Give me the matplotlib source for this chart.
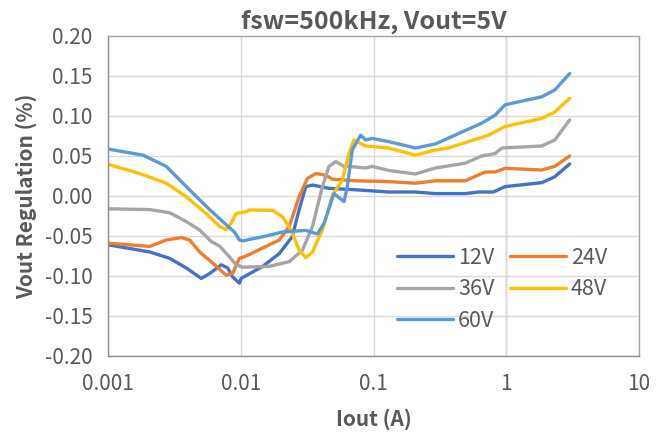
import matplotlib
matplotlib.use('Agg')
import matplotlib.pyplot as plt
from matplotlib.ticker import FixedLocator, FuncFormatter, NullLocator

plt.rcParams['font.family'] = ['Noto Sans CJK SC', 'DejaVu Sans']
plt.rcParams['axes.unicode_minus'] = False

# values (Iout in A, regulation in %)
iout_12v = [0.001, 0.00207, 0.00292, 0.00389, 0.00504, 0.00582, 0.00713, 0.00798, 0.00867,
            0.00977, 0.01007, 0.01462, 0.0195, 0.0244, 0.0275, 0.0309, 0.0347, 0.0462,
            0.0777, 0.13, 0.207, 0.292, 0.491, 0.618, 0.80, 0.98, 1.85, 2.32, 3.0]
reg_12v = [-0.061, -0.070, -0.078, -0.090, -0.103, -0.097, -0.086, -0.090, -0.101,
           -0.109, -0.103, -0.088, -0.072, -0.051, -0.0175, 0.0117, 0.0137, 0.0096,
           0.0075, 0.005, 0.005, 0.003, 0.003, 0.005, 0.005, 0.0117, 0.0167, 0.024, 0.040]

iout_24v = [0.001, 0.00207, 0.00275, 0.00357, 0.00412, 0.0049, 0.00617, 0.00777, 0.00867,
            0.00977, 0.01097, 0.01462, 0.0195, 0.0232, 0.0275, 0.0318, 0.0368, 0.0437,
            0.049, 0.0734, 0.13, 0.207, 0.292, 0.491, 0.693, 0.824, 0.98, 1.85, 2.32, 3.0]
reg_24v = [-0.059, -0.063, -0.055, -0.052, -0.055, -0.070, -0.084, -0.099, -0.097,
           -0.078, -0.075, -0.065, -0.055, -0.038, -0.001, 0.022, 0.028, 0.026,
           0.021, 0.019, 0.018, 0.016, 0.019, 0.019, 0.030, 0.030, 0.0346, 0.0325, 0.037, 0.050]

iout_36v = [0.001, 0.00207, 0.00292, 0.00389, 0.0049, 0.0060, 0.00692, 0.00822, 0.00923,
            0.01035, 0.0164, 0.0232, 0.0292, 0.0347, 0.0412, 0.0462, 0.052, 0.060,
            0.0654, 0.0872, 0.0978, 0.13, 0.207, 0.292, 0.491, 0.653, 0.824, 0.925,
            1.85, 2.32, 3.0]
reg_36v = [-0.016, -0.017, -0.021, -0.032, -0.0425, -0.057, -0.0625, -0.076, -0.086,
           -0.089, -0.088, -0.082, -0.0675, -0.038, 0.0117, 0.037, 0.043, 0.037,
           0.037, 0.035, 0.037, 0.032, 0.0275, 0.035, 0.041, 0.050, 0.053, 0.060,
           0.0625, 0.070, 0.095]

iout_48v = [0.001, 0.00174, 0.00275, 0.00389, 0.0055, 0.00692, 0.00777, 0.00847, 0.00923,
            0.01097, 0.01162, 0.0174, 0.02066, 0.0239, 0.0275, 0.0309, 0.0347, 0.0412,
            0.049, 0.0582, 0.0654, 0.0713, 0.0872, 0.13, 0.207, 0.292, 0.368, 0.734,
            0.98, 1.85, 2.32, 3.0]
reg_48v = [0.0396, 0.028, 0.016, -0.001, -0.022, -0.038, -0.042, -0.034, -0.022,
           -0.0196, -0.0175, -0.018, -0.026, -0.0425, -0.0675, -0.077, -0.070, -0.0425,
           0.001, 0.020, 0.053, 0.070, 0.0625, 0.060, 0.051, 0.0575, 0.060, 0.076,
           0.087, 0.097, 0.105, 0.122]

iout_60v = [0.001, 0.00184, 0.00275, 0.00389, 0.0055, 0.00777, 0.00897, 0.00977, 0.01035,
            0.01462, 0.02066, 0.0309, 0.0378, 0.0425, 0.0504, 0.055, 0.060, 0.0635,
            0.0692, 0.080, 0.0872, 0.0978, 0.13, 0.207, 0.292, 0.653, 0.824, 0.98,
            1.85, 2.32, 3.0]
reg_60v = [0.0587, 0.051, 0.037, 0.0117, -0.013, -0.036, -0.045, -0.055, -0.056,
           -0.051, -0.045, -0.043, -0.0475, -0.034, 0.003, -0.002, -0.007, 0.012,
           0.0575, 0.076, 0.070, 0.072, 0.068, 0.060, 0.065, 0.091, 0.101, 0.114,
           0.124, 0.1325, 0.153]

series = [
    ('12V', iout_12v, reg_12v, '#4472C4'),
    ('24V', iout_24v, reg_24v, '#ED7D31'),
    ('36V', iout_36v, reg_36v, '#A5A5A5'),
    ('48V', iout_48v, reg_48v, '#FFC000'),
    ('60V', iout_60v, reg_60v, '#5B9BD5'),
]

y_ticks = [-0.20, -0.15, -0.10, -0.05, 0.00, 0.05, 0.10, 0.15, 0.20]
x_ticks = [0.001, 0.01, 0.1, 1, 10]

text_grey = '#595959'

dpi = 100
fig = plt.figure(figsize=(669 / dpi, 436 / dpi), dpi=dpi)
ax = fig.add_axes([108 / 669, 1 - 356 / 436, (639 - 108) / 669, (356 - 36) / 436])

lines = {}
for name, x, y, col in series:
    lines[name], = ax.plot(x, y, color=col, lw=2.4, label=name, solid_joinstyle='round',
                           solid_capstyle='round')

ax.set_xscale('log')
ax.set_xlim(0.001, 10)
ax.set_ylim(-0.20, 0.20)
ax.xaxis.set_major_locator(FixedLocator(x_ticks))
ax.xaxis.set_minor_locator(NullLocator())
ax.xaxis.set_major_formatter(FuncFormatter(lambda v, p: '%g' % v))
ax.yaxis.set_major_locator(FixedLocator(y_ticks))
ax.yaxis.set_major_formatter(FuncFormatter(lambda v, p: '%.2f' % v))

ax.grid(True, axis='y', color='#d9d9d9', lw=1.0)
ax.grid(True, axis='x', color='#d9d9d9', lw=1.0)
ax.set_axisbelow(True)
# vertical axis crosses at 1 like Excel does
ax.axvline(1, color='#bfbfbf', lw=1.0, zorder=0.5)

for s in ax.spines.values():
    s.set_color('#a6a6a6')
    s.set_linewidth(1.0)
ax.spines['left'].set_color('#8c8c8c')
ax.spines['bottom'].set_color('#8c8c8c')

ax.tick_params(axis='y', length=0, labelsize=15, labelcolor=text_grey, pad=11)
ax.tick_params(axis='x', length=0, labelsize=15, labelcolor=text_grey, pad=12)

ax.set_title('fsw=500kHz, Vout=5V', fontsize=18, fontweight='bold', color=text_grey, pad=5)
ax.set_xlabel('Iout (A)', fontsize=15, fontweight='bold', color=text_grey, labelpad=10)
ax.set_ylabel('Vout Regulation (%)', fontsize=15, fontweight='bold', color=text_grey, labelpad=6)

# Excel fills the legend row by row
order = ['12V', '36V', '60V', '24V', '48V']
ax.legend([lines[k] for k in order], order, loc='upper left', bbox_to_anchor=(0.544, 0.342),
          ncol=2, frameon=False, fontsize=15.5, labelcolor=text_grey, handlelength=2.6,
          handletextpad=0.25, columnspacing=0.7, labelspacing=0.45, borderpad=0,
          borderaxespad=0)

plt.savefig('out.png', dpi=dpi)
